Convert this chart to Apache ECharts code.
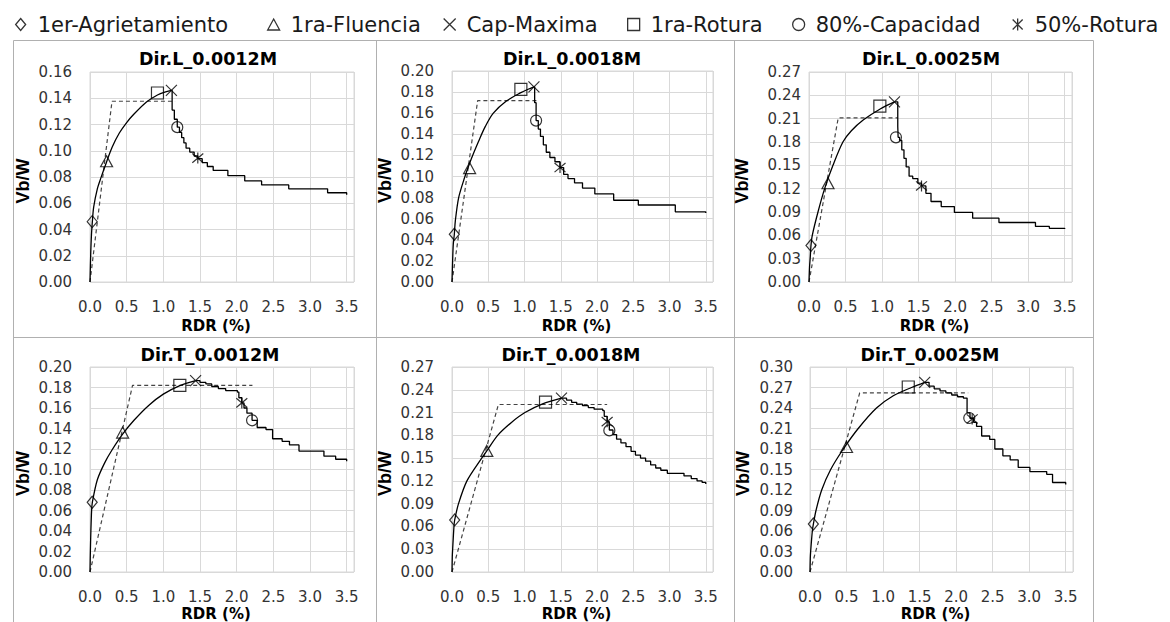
<!DOCTYPE html>
<html><head><meta charset="utf-8">
<script src="https://cdn.jsdelivr.net/npm/echarts@6/dist/echarts.min.js"></script>
<style>html,body{margin:0;padding:0;background:#fff}#c{width:1170px;height:622px}</style>
</head><body><div id="c"></div>
<script>
// ---------------- DATA ----------------
const panelTitles = ['Dir.L_0.0012M','Dir.L_0.0018M','Dir.L_0.0025M','Dir.T_0.0012M','Dir.T_0.0018M','Dir.T_0.0025M'];
const yMax  = [0.16, 0.20, 0.27, 0.20, 0.27, 0.30];
const yStep = [0.02, 0.02, 0.03, 0.02, 0.03, 0.03];
const xMin = 0, xMax = 3.6, xStep = 0.5;
const xName = 'RDR (%)';
const yName = 'Vb/W';

// capacity curves: rising (smooth) branch
const riseL12 = [[0,0],[0.01,0.022],[0.02,0.036],[0.032,0.046],[0.05,0.057],[0.1,0.071],[0.15,0.0795],[0.226,0.0915],[0.3,0.1025],[0.4,0.1135],[0.5,0.1215],[0.6,0.128],[0.77,0.1372],[0.92,0.1425],[1.02,0.1447],[1.11,0.146]];
const riseL18 = [[0,0],[0.009,0.021],[0.018,0.036],[0.032,0.0453],[0.046,0.058],[0.092,0.080],[0.174,0.099],[0.243,0.1125],[0.3,0.1225],[0.367,0.1335],[0.46,0.1475],[0.57,0.160],[0.75,0.1715],[0.95,0.1795],[1.05,0.1827],[1.13,0.185]];
const riseL25 = [[0,0],[0.008,0.02],[0.018,0.033],[0.027,0.047],[0.045,0.06],[0.123,0.09],[0.214,0.12],[0.328,0.15],[0.464,0.18],[0.58,0.1945],[0.746,0.2085],[0.974,0.2225],[1.17,0.2316]];
const riseT12 = [[0,0],[0.005,0.02],[0.012,0.04],[0.022,0.06],[0.032,0.068],[0.1,0.090],[0.2,0.1065],[0.3,0.119],[0.445,0.1345],[0.6,0.148],[0.8,0.1625],[1.0,0.1735],[1.225,0.1818],[1.44,0.1867]];
const riseT18 = [[0,0],[0.004,0.02],[0.009,0.03],[0.027,0.06],[0.037,0.0686],[0.09,0.09],[0.206,0.12],[0.41,0.15],[0.48,0.1595],[0.63,0.18],[0.82,0.197],[1.006,0.21],[1.25,0.2215],[1.51,0.229]];
const riseT25 = [[0,0],[0.004,0.02],[0.009,0.03],[0.032,0.06],[0.046,0.07],[0.082,0.09],[0.16,0.12],[0.283,0.15],[0.456,0.18],[0.66,0.21],[0.91,0.24],[1.14,0.258],[1.39,0.27],[1.57,0.2776]];

// capacity curves: descending (stepped) branch
const fallL12 = [[1.11,0.146],[1.12,0.131],[1.15,0.124],[1.19,0.118],[1.22,0.114],[1.25,0.110],[1.28,0.106],[1.31,0.102],[1.36,0.099],[1.42,0.096],[1.47,0.094],[1.53,0.091],[1.60,0.088],[1.68,0.085],[1.88,0.081],[2.11,0.077],[2.34,0.074],[2.71,0.071],[3.24,0.068],[3.50,0.0665]];
const fallL18 = [[1.13,0.185],[1.14,0.170],[1.16,0.153],[1.19,0.145],[1.22,0.138],[1.26,0.130],[1.30,0.123],[1.35,0.118],[1.42,0.114],[1.49,0.1085],[1.54,0.102],[1.60,0.098],[1.69,0.094],[1.80,0.089],[1.97,0.0835],[2.23,0.0775],[2.57,0.073],[3.08,0.0665],[3.50,0.0655]];
const fallL25 = [[1.17,0.2316],[1.215,0.200],[1.22,0.186],[1.24,0.182],[1.27,0.170],[1.30,0.159],[1.33,0.148],[1.37,0.136],[1.42,0.133],[1.49,0.127],[1.54,0.1235],[1.60,0.114],[1.67,0.1035],[1.81,0.097],[1.99,0.0895],[2.24,0.082],[2.60,0.0765],[3.10,0.0715],[3.29,0.069],[3.50,0.068]];
const fallT12 = [[1.44,0.1867],[1.50,0.185],[1.58,0.1835],[1.66,0.181],[1.75,0.179],[1.85,0.177],[2.01,0.1755],[2.03,0.170],[2.07,0.165],[2.10,0.160],[2.14,0.155],[2.21,0.148],[2.28,0.141],[2.40,0.139],[2.49,0.130],[2.62,0.1275],[2.72,0.124],[2.85,0.118],[3.19,0.113],[3.35,0.110],[3.50,0.108]];
const fallT18 = [[1.51,0.229],[1.58,0.2265],[1.65,0.2235],[1.72,0.221],[1.80,0.219],[1.88,0.2165],[1.96,0.2145],[2.08,0.2125],[2.10,0.205],[2.14,0.198],[2.17,0.187],[2.22,0.181],[2.27,0.175],[2.33,0.170],[2.40,0.165],[2.47,0.159],[2.53,0.154],[2.60,0.150],[2.67,0.146],[2.74,0.141],[2.81,0.137],[2.88,0.134],[2.97,0.130],[3.20,0.1265],[3.30,0.123],[3.38,0.120],[3.45,0.118],[3.50,0.116]];
const fallT25 = [[1.57,0.2776],[1.63,0.272],[1.70,0.268],[1.78,0.265],[1.86,0.262],[1.94,0.259],[2.02,0.2565],[2.10,0.2545],[2.15,0.233],[2.19,0.225],[2.24,0.219],[2.28,0.213],[2.35,0.199],[2.46,0.194],[2.53,0.180],[2.64,0.170],[2.74,0.164],[2.85,0.153],[3.01,0.147],[3.24,0.143],[3.32,0.131],[3.50,0.128]];

// bilinear idealisation (dashed)
const bilinL12 = [[0,0],[0.30,0.1377],[1.16,0.1377]];
const bilinL18 = [[0,0],[0.354,0.172],[1.18,0.172]];
const bilinL25 = [[0,0],[0.40,0.211],[1.215,0.211]];
const bilinT12 = [[0,0],[0.58,0.182],[2.215,0.182]];
const bilinT18 = [[0,0],[0.64,0.2206],[2.14,0.2206]];
const bilinT25 = [[0,0],[0.68,0.262],[2.165,0.262]];

// performance points, one per panel (L12, L18, L25, T12, T18, T25)
const markerNames = ['1er-Agrietamiento','1ra-Fluencia','Cap-Maxima','1ra-Rotura','80%-Capacidad','50%-Rotura'];
const agrietamiento = [[0.03,0.046],[0.032,0.0453],[0.027,0.047],[0.03,0.068],[0.037,0.0686],[0.046,0.0702]];
const fluencia      = [[0.226,0.092],[0.243,0.108],[0.26,0.127],[0.445,0.136],[0.48,0.1595],[0.50,0.183]];
const capMaxima     = [[1.11,0.146],[1.13,0.185],[1.17,0.2316],[1.44,0.1867],[1.51,0.229],[1.57,0.2776]];
const rotura1       = [[0.92,0.144],[0.95,0.1826],[0.97,0.226],[1.225,0.182],[1.29,0.2237],[1.345,0.2707]];
const capacidad80   = [[1.19,0.118],[1.16,0.153],[1.19,0.186],[2.21,0.148],[2.17,0.1865],[2.18,0.2254]];
const rotura50      = [[1.47,0.0944],[1.49,0.1085],[1.54,0.1235],[2.07,0.165],[2.14,0.198],[2.22,0.224]];

// ---------------- BUILD ----------------
const rises = [riseL12, riseL18, riseL25, riseT12, riseT18, riseT25];
const falls = [fallL12, fallL18, fallL25, fallT12, fallT18, fallT25];
const bilins = [bilinL12, bilinL18, bilinL25, bilinT12, bilinT18, bilinT25];
const markerData = [agrietamiento, fluencia, capMaxima, rotura1, capacidad80, rotura50];

const symbols = [
  {s:'path://M5,0L10,6L5,12L0,6Z', size:[10,12]},
  {s:'path://M6,0L12,11L0,11Z', size:[12,11]},
  {s:'path://M0,0L10,10M10,0L0,10', size:[11,11]},
  {s:'path://M0,0L10,0L10,10L0,10Z', size:[12,12]},
  {s:'path://M0,5A5,5,0,1,1,10,5A5,5,0,1,1,0,5Z', size:[11,11]},
  {s:'path://M0,0L10,10M10,0L0,10M5,-1L5,11', size:[11,11]}
];

const gridBoxes = [[90,72,264,210],[452,71,261,211],[809,72,263,210],[90,367,264,206],[452,367,261,206],[810,367,263,205]];
const yLabelMargin = [18,18,8,18,18,17];
const titlePos = [[208,59],[572,59],[931,59],[210,355],[571,355],[930,355]];
const legendLeft = [15,267,443,627,792,1012];

const FONT = 'DejaVu Sans';
const grids = [], xAxes = [], yAxes = [], series = [], graphics = [];

for (let i = 0; i < 6; i++) {
  const b = gridBoxes[i];
  grids.push({left:b[0], top:b[1], width:b[2], height:b[3], show:true, borderColor:'#d9d9d9', borderWidth:1, containLabel:false});
  xAxes.push({
    type:'value', gridIndex:i, min:xMin, max:xMax, interval:xStep,
    axisLine:{show:false}, axisTick:{show:false},
    splitLine:{show:true, lineStyle:{color:'#d9d9d9', width:1}},
    axisLabel:{fontFamily:FONT, fontSize:15, color:'#333', margin:17, showMaxLabel:true,
      formatter:v => (Math.abs(v/xStep - Math.round(v/xStep)) < 1e-6 ? v.toFixed(1) : '')},
    name:xName, nameLocation:'middle', nameGap:(i<3?36:34),
    nameTextStyle:{fontFamily:FONT, fontWeight:'bold', fontSize:15, color:'#000', padding:[0,12,0,0]}
  });
  yAxes.push({
    type:'value', gridIndex:i, min:0, max:yMax[i], interval:yStep[i],
    axisLine:{show:false}, axisTick:{show:false},
    splitLine:{show:true, lineStyle:{color:'#d9d9d9', width:1}},
    axisLabel:{fontFamily:FONT, fontSize:15, color:'#333', margin:yLabelMargin[i], formatter:v => v.toFixed(2)},
    name:yName, nameLocation:'middle', nameGap:58, nameRotate:90,
    nameTextStyle:{fontFamily:'Liberation Sans', fontWeight:'bold', fontSize:18, color:'#000', padding:[0,8,0,0]}
  });
  series.push({type:'line', xAxisIndex:i, yAxisIndex:i, data:bilins[i], showSymbol:false, silent:true, z:2,
    lineStyle:{color:'#444', width:1.2, type:[4,3]}});
  series.push({type:'line', xAxisIndex:i, yAxisIndex:i, data:rises[i], smooth:0.3, showSymbol:false, silent:true, z:3,
    lineStyle:{color:'#000', width:1.3}});
  series.push({type:'line', xAxisIndex:i, yAxisIndex:i, data:falls[i], step:'end', showSymbol:false, silent:true, z:3,
    lineStyle:{color:'#000', width:1.3}});
  for (let m = 0; m < 6; m++) {
    series.push({type:'scatter', name:markerNames[m], xAxisIndex:i, yAxisIndex:i, data:[markerData[m][i]],
      symbol:symbols[m].s, symbolSize:symbols[m].size, z:5, silent:true,
      itemStyle:{color:'rgba(0,0,0,0)', borderColor:'#000', borderWidth:1.2}});
  }
  graphics.push({type:'text', x:titlePos[i][0], y:titlePos[i][1], silent:true,
    style:{text:panelTitles[i], font:'bold 17.5px "DejaVu Sans"', fill:'#000', textAlign:'center', textVerticalAlign:'middle'}});
}

// panel frame lines
const frameColor = '#b0b0b0';
[13.5, 376.5, 734.5, 1093.5].forEach(x => graphics.push({type:'line', silent:true, shape:{x1:x, y1:40.5, x2:x, y2:622}, style:{stroke:frameColor, lineWidth:1}}));
[40.5, 337.5].forEach(y => graphics.push({type:'line', silent:true, shape:{x1:13.5, y1:y, x2:1093.5, y2:y}, style:{stroke:frameColor, lineWidth:1}}));

const legends = markerNames.map((n, k) => ({
  data:[n], left:legendLeft[k], top:14, padding:0, itemWidth:12, itemHeight:12, selectedMode:false,
  itemStyle:{borderWidth:1.3},
  textStyle:{fontFamily:FONT, fontSize:21, color:'#1a1a1a', padding:[0,0,0,6]}
}));

const chart = echarts.init(document.getElementById('c'), null, {renderer:'svg'});
chart.setOption({
  animation:false,
  backgroundColor:'#fff',
  grid:grids, xAxis:xAxes, yAxis:yAxes, series:series, legend:legends, graphic:graphics
});
</script></body></html>
